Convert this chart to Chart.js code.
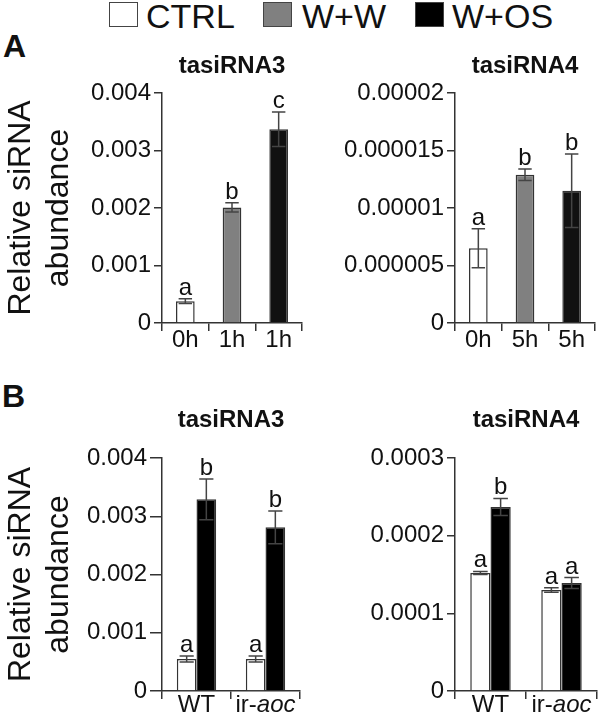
<!DOCTYPE html>
<html>
<head>
<meta charset="utf-8">
<script src="https://cdn.jsdelivr.net/npm/chart.js@4.4.1/dist/chart.umd.min.js"></script>
<style>
  body { margin: 0; background: #fff; }
  #page { position: relative; width: 600px; height: 716px; overflow: hidden; font-family: "Liberation Sans", Arial, sans-serif; color: #111; }
  canvas { position: absolute; }
  .lbl { position: absolute; white-space: nowrap; }
  .key { position: absolute; font-size: 34px; line-height: 34px; top: -1px; }
  .box { position: absolute; top: 2px; width: 27px; height: 23px; border: 1.5px solid #444; }
  .panel { font-size: 32px; line-height: 32px; font-weight: bold; }
</style>
</head>
<body>
<div id="page">
  <div class="box" style="left:109px; background:#fff;"></div>
  <div class="key" style="left:146px;">CTRL</div>
  <div class="box" style="left:263px; background:#808080;"></div>
  <div class="key" style="left:302px;">W+W</div>
  <div class="box" style="left:415px; background:#000;"></div>
  <div class="key" style="left:452px;">W+OS</div>
  <div class="lbl panel" style="left:3px; top:30px;">A</div>
  <div class="lbl panel" style="left:2px; top:380px;">B</div>

  <canvas id="a3" width="310" height="320" style="left:0; top:50px;"></canvas>
  <canvas id="a4" width="295" height="320" style="left:305px; top:50px;"></canvas>
  <canvas id="b3" width="310" height="321" style="left:0; top:395px;"></canvas>
  <canvas id="b4" width="295" height="321" style="left:305px; top:395px;"></canvas>
</div>
<script>
// panel A, tasiRNA3
const timesA3 = ['0h', '1h', '1h'];
const ctrlA3 = [0.00038, null, null];
const ctrlA3Err = [0.00004, null, null];
const wwA3 = [null, 0.00201, null];
const wwA3Err = [null, 0.00008, null];
const wosA3 = [null, null, 0.00337];
const wosA3Err = [null, null, 0.0003];
const lettersA3 = ['a', 'b', 'c'];
const ticksA3 = ['0', '0.001', '0.002', '0.003', '0.004'];

// panel A, tasiRNA4
const timesA4 = ['0h', '5h', '5h'];
const ctrlA4 = [0.0000065, null, null];
const ctrlA4Err = [0.0000017, null, null];
const wwA4 = [null, 0.0000129, null];
const wwA4Err = [null, 0.0000005, null];
const wosA4 = [null, null, 0.0000115];
const wosA4Err = [null, null, 0.0000032];
const lettersA4 = ['a', 'b', 'b'];
const ticksA4 = ['0', '0.000005', '0.00001', '0.000015', '0.00002'];

// panel B, tasiRNA3
const genotypes = ['WT', 'ir-aoc'];
const ctrlB3 = [0.00055, 0.00055];
const ctrlB3Err = [0.00005, 0.00005];
const wosB3 = [0.00329, 0.00281];
const wosB3Err = [0.00035, 0.00028];
const ctrlB3Letters = ['a', 'a'];
const wosB3Letters = ['b', 'b'];
const ticksB3 = ['0', '0.001', '0.002', '0.003', '0.004'];

// panel B, tasiRNA4
const ctrlB4 = [0.000152, 0.00013];
const ctrlB4Err = [0.000002, 0.000003];
const wosB4 = [0.000237, 0.000139];
const wosB4Err = [0.000011, 0.000007];
const ctrlB4Letters = ['a', 'a'];
const wosB4Letters = ['b', 'a'];
const ticksB4 = ['0', '0.0001', '0.0002', '0.0003'];

const fam = '"Liberation Sans", Arial, sans-serif';
Chart.defaults.font.family = fam;
Chart.defaults.color = '#111';

// error bars + significance letters
const errorBars = {
  id: 'errorBars',
  afterDatasetsDraw(chart) {
    const ctx = chart.ctx;
    const y = chart.scales.y;
    chart.data.datasets.forEach((ds, i) => {
      chart.getDatasetMeta(i).data.forEach((bar, j) => {
        const v = ds.data[j];
        if (v == null) return;
        const top = y.getPixelForValue(v + ds.errors[j]);
        const bot = y.getPixelForValue(v - ds.errors[j]);
        const half = bar.width * 0.36;
        ctx.save();
        ctx.strokeStyle = '#444';
        ctx.lineWidth = 1.5;
        ctx.beginPath();
        ctx.moveTo(bar.x, top); ctx.lineTo(bar.x, bot);
        ctx.moveTo(bar.x - half, top); ctx.lineTo(bar.x + half, top);
        ctx.moveTo(bar.x - half, bot); ctx.lineTo(bar.x + half, bot);
        ctx.stroke();
        ctx.fillStyle = '#111';
        ctx.font = '24px ' + fam;
        ctx.textAlign = 'center';
        ctx.textBaseline = 'alphabetic';
        ctx.fillText(ds.letters[j], bar.x, top - 4);
        ctx.restore();
      });
    });
  }
};

// x labels drawn by hand so "aoc" can be italic
const xLabels = {
  id: 'xLabels',
  afterDraw(chart, args, opts) {
    const ctx = chart.ctx;
    const x = chart.scales.x;
    const base = chart.chartArea.bottom + opts.offset;
    ctx.save();
    ctx.fillStyle = '#111';
    ctx.textBaseline = 'alphabetic';
    ctx.textAlign = 'left';
    chart.data.labels.forEach((label, i) => {
      const cut = label.indexOf('-') + 1;
      const plain = cut > 0 ? label.slice(0, cut) : label;
      const ital = cut > 0 ? label.slice(cut) : '';
      ctx.font = '24px ' + fam;
      const w1 = ctx.measureText(plain).width;
      ctx.font = 'italic 24px ' + fam;
      const w2 = ctx.measureText(ital).width;
      const px = x.getPixelForValue(i) - (w1 + w2) / 2;
      ctx.font = '24px ' + fam;
      ctx.fillText(plain, px, base);
      ctx.font = 'italic 24px ' + fam;
      ctx.fillText(ital, px + w1, base);
    });
    ctx.restore();
  }
};

function bars(name, data, errors, letters, color, cat) {
  return {
    label: name, data: data, errors: errors, letters: letters,
    backgroundColor: color, borderColor: '#333', borderWidth: 1.5,
    categoryPercentage: cat, barPercentage: 1, skipNull: true
  };
}

function makePanel(id, title, labels, sets, yMax, yStep, yTicks, box) {
  return new Chart(document.getElementById(id), {
    type: 'bar',
    data: { labels: labels, datasets: sets },
    options: {
      responsive: false,
      animation: false,
      layout: { padding: { left: 0, right: box.right, top: 0, bottom: 0 } },
      plugins: {
        legend: { display: false },
        tooltip: { enabled: false },
        title: {
          display: true, text: title, fullSize: false, color: '#111',
          font: { size: 24, weight: 'bold', lineHeight: 1.2 },
          padding: { top: box.titleTop, bottom: box.titleBottom }
        },
        xLabels: { offset: box.labelOffset }
      },
      scales: {
        x: {
          grid: { drawOnChartArea: false, tickLength: 8, color: '#333', lineWidth: 1.5 },
          border: { color: '#333', width: 1.5 },
          ticks: { color: 'rgba(0,0,0,0)', font: { size: 24 } },
          afterFit: s => { s.height = box.xHeight; }
        },
        y: {
          min: 0, max: yMax,
          grid: { drawOnChartArea: false, tickLength: box.yTick, color: '#333', lineWidth: 1.5 },
          border: { color: '#333', width: 1.5 },
          ticks: { stepSize: yStep, padding: 3, color: '#111', font: { size: 24 }, callback: (v, i) => yTicks[i] },
          title: {
            display: box.yTitle, text: ['Relative siRNA', 'abundance'], color: '#111',
            font: { size: 32, lineHeight: 1.2 }, padding: { top: 2, bottom: 0 }
          },
          afterFit: s => { s.width = box.yWidth; }
        }
      }
    },
    plugins: [errorBars, xLabels]
  });
}

makePanel('a3', 'tasiRNA3', timesA3, [
  bars('CTRL', ctrlA3, ctrlA3Err, lettersA3, '#ffffff', 0.4),
  bars('W+W', wwA3, wwA3Err, lettersA3, '#808080', 0.4),
  bars('W+OS', wosA3, wosA3Err, lettersA3, '#111111', 0.4)
], 0.004, 0.001, ticksA3,
  { right: 8, titleTop: 1.6, titleBottom: 12.6, xHeight: 47, yWidth: 162, yTick: 8, yTitle: true, labelOffset: 24 });

makePanel('a4', 'tasiRNA4', timesA4, [
  bars('CTRL', ctrlA4, ctrlA4Err, lettersA4, '#ffffff', 0.4),
  bars('W+W', wwA4, wwA4Err, lettersA4, '#808080', 0.4),
  bars('W+OS', wosA4, wosA4Err, lettersA4, '#111111', 0.4)
], 0.00002, 0.000005, ticksA4,
  { right: 5, titleTop: 1.6, titleBottom: 12.6, xHeight: 47, yWidth: 150, yTick: 8, yTitle: false, labelOffset: 24 });

makePanel('b3', 'tasiRNA3', genotypes, [
  bars('CTRL', ctrlB3, ctrlB3Err, ctrlB3Letters, '#ffffff', 0.57),
  bars('W+OS', wosB3, wosB3Err, wosB3Letters, '#000000', 0.57)
], 0.004, 0.001, ticksB3,
  { right: 10, titleTop: 10.6, titleBottom: 23.6, xHeight: 25, yWidth: 162, yTick: 12, yTitle: true, labelOffset: 21 });

makePanel('b4', 'tasiRNA4', genotypes, [
  bars('CTRL', ctrlB4, ctrlB4Err, ctrlB4Letters, '#ffffff', 0.57),
  bars('W+OS', wosB4, wosB4Err, wosB4Letters, '#000000', 0.57)
], 0.0003, 0.0001, ticksB4,
  { right: 3, titleTop: 10.6, titleBottom: 23.6, xHeight: 25, yWidth: 150, yTick: 8, yTitle: false, labelOffset: 21 });
</script>
</body>
</html>
